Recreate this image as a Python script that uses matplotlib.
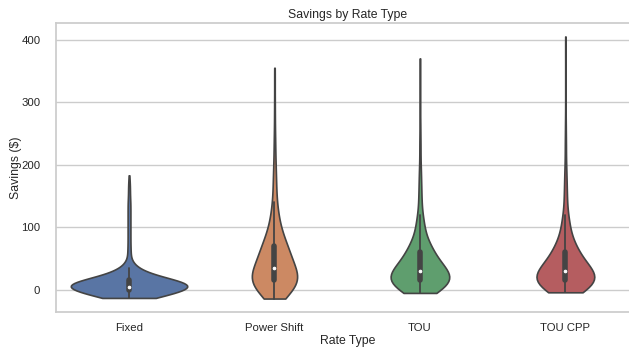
import numpy as np
import pandas as pd
import matplotlib
matplotlib.use("Agg")
import matplotlib.pyplot as plt
import seaborn as sns

# savings histogram: value ($) -> number of customers
rate_types = ["Fixed", "Power Shift", "TOU", "TOU CPP"]

fixed_vals = [-13, -10, -5, 0, 5, 10, 15, 20, 25, 30, 35, 40, 45, 50, 60, 70, 80, 90,
              100, 110, 120, 130, 140, 150, 160, 170, 183]
fixed_counts = [30, 35, 45, 60, 90, 70, 55, 35, 22, 14, 9, 5, 3, 2, 4, 3, 3, 3,
                3, 3, 3, 3, 3, 2, 2, 2, 1]

shift_vals = [-14, -10, -5, 0, 5, 10, 15, 20, 25, 30, 35, 40, 50, 60, 70, 80, 90, 100,
              110, 120, 130, 140, 160, 180, 200, 220, 240, 260, 280, 300, 330, 355]
shift_counts = [7, 8, 11, 14, 16, 18, 18, 18, 17, 16, 15, 13, 25, 21, 17, 14, 10, 8,
                6, 5, 4, 4, 5, 4, 3, 2, 2, 1, 1, 1, 1, 1]

tou_vals = [-5, 0, 5, 10, 15, 20, 25, 30, 35, 40, 45, 50, 60, 70, 80, 90, 100, 110,
            120, 140, 160, 180, 200, 230, 260, 290, 320, 350, 370]
tou_counts = [18, 23, 28, 31, 32, 32, 30, 27, 23, 20, 18, 18, 30, 20, 12, 9, 8, 7,
              6, 6, 5, 4, 3, 3, 2, 1, 1, 1, 1]

cpp_vals = [-4, 0, 5, 10, 15, 20, 25, 30, 35, 40, 45, 50, 60, 70, 80, 90, 100, 110,
            120, 140, 160, 180, 200, 230, 260, 290, 320, 350, 380, 405]
cpp_counts = [17, 23, 28, 31, 32, 32, 30, 27, 23, 20, 18, 17, 29, 19, 12, 9, 8, 7,
              6, 6, 5, 4, 3, 3, 2, 1, 1, 1, 1, 1]

groups = [(fixed_vals, fixed_counts), (shift_vals, shift_counts),
          (tou_vals, tou_counts), (cpp_vals, cpp_counts)]
frames = []
for name, (v, c) in zip(rate_types, groups):
    frames.append(pd.DataFrame({"Rate Type": name, "Savings ($)": np.repeat(v, c)}))
df = pd.concat(frames, ignore_index=True)

sns.set_theme(style="whitegrid")
plt.rcParams["font.family"] = ["Liberation Sans", "DejaVu Sans"]

fig = plt.figure(figsize=(6.29, 3.49), dpi=100)
ax = fig.add_axes([0.0895, 0.107, 0.925, 0.826])

# no hue, so the area scaling is shared by all four violins
sns.violinplot(data=df, x="Rate Type", y="Savings ($)", order=rate_types,
               color="C0", cut=0, linewidth=1.2, linecolor="#444444",
               inner_kws=dict(box_width=4, whis_width=1.3, marker="o",
                              markersize=1.8, color="#444444"),
               ax=ax)

colors = [sns.desaturate(c, 0.75) for c in sns.color_palette("deep", 4)]
bodies = [c for c in ax.collections if isinstance(c, matplotlib.collections.PolyCollection)]
for body, col in zip(bodies, colors):
    body.set_facecolor(col)

ax.set_title("Savings by Rate Type", fontsize=8.8, color="#262626", pad=4)
ax.set_xlabel("Rate Type", fontsize=8.8, color="#262626")
ax.set_ylabel("Savings ($)", fontsize=8.8, color="#262626")
ax.tick_params(axis="x", labelsize=8.2, colors="#262626", pad=2.5)
ax.tick_params(axis="y", labelsize=8.2, colors="#262626", pad=5.5)
ax.set_yticks([0, 100, 200, 300, 400])
ax.xaxis.set_label_coords(0.5, -0.080)
ax.yaxis.set_label_coords(-0.059, 0.5)

fig.savefig("out.png", dpi=100)
